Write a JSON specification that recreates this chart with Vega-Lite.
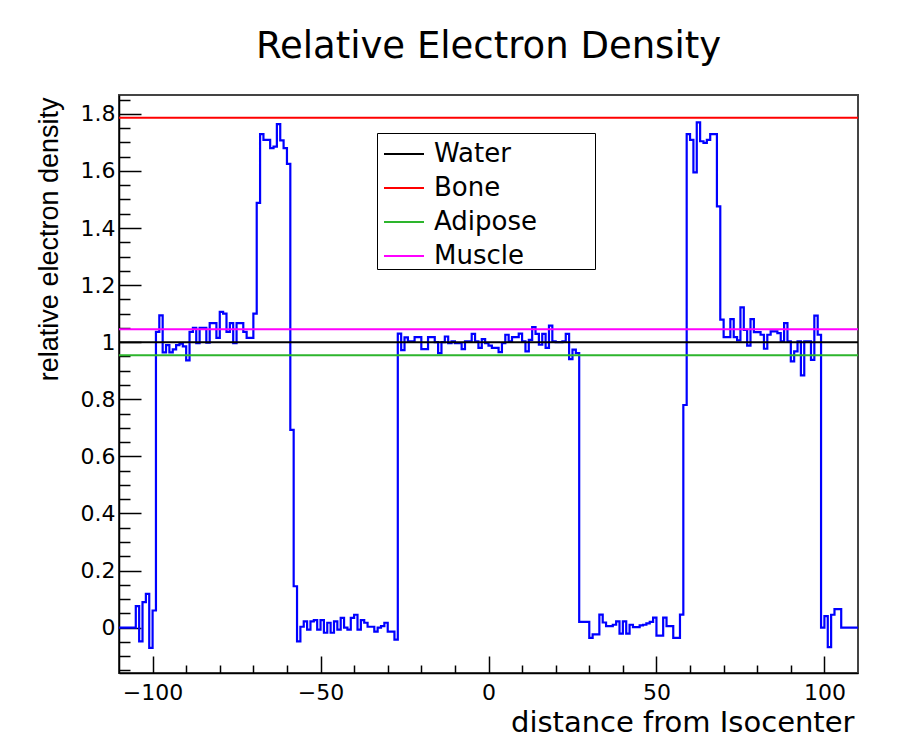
{
  "$schema": "https://vega.github.io/schema/vega-lite/v6.json",
  "width": 739,
  "height": 578,
  "autosize": {"type": "none"},
  "padding": {"left": 119, "top": 95, "right": 65, "bottom": 67},
  "background": "white",
  "title": {"text": "Relative Electron Density", "font": "DejaVu Sans", "fontSize": 37, "fontWeight": "normal", "color": "black", "anchor": "middle", "offset": 29},
  "config": {"view": {"stroke": "#444444", "strokeWidth": 2}},
  "resolve": {"axis": {"x": "independent", "y": "independent"}},
  "datasets": {
    "hist": [
      {"x": -110, "v": 0}, {"x": -109, "v": 0}, {"x": -108, "v": 0}, {"x": -107, "v": 0}, {"x": -106, "v": 0},
      {"x": -105, "v": 0.075}, {"x": -104, "v": -0.048}, {"x": -103, "v": 0.089}, {"x": -102, "v": 0.118}, {"x": -101, "v": -0.071},
      {"x": -100, "v": 0.06}, {"x": -99, "v": 1.036}, {"x": -98, "v": 1.094}, {"x": -97, "v": 0.964}, {"x": -96, "v": 0.99},
      {"x": -95, "v": 0.964}, {"x": -94, "v": 0.975}, {"x": -93, "v": 0.99}, {"x": -92, "v": 0.995}, {"x": -91, "v": 0.985},
      {"x": -90, "v": 0.936}, {"x": -89, "v": 1.036}, {"x": -88, "v": 1.05}, {"x": -87, "v": 0.997}, {"x": -86, "v": 1.05},
      {"x": -85, "v": 1.05}, {"x": -84, "v": 0.998}, {"x": -83, "v": 1.067}, {"x": -82, "v": 1.067}, {"x": -81, "v": 1.015},
      {"x": -80, "v": 1.106}, {"x": -79, "v": 1.1}, {"x": -78, "v": 1.036}, {"x": -77, "v": 1.067}, {"x": -76, "v": 0.997},
      {"x": -75, "v": 1.067}, {"x": -74, "v": 1.067}, {"x": -73, "v": 1.036}, {"x": -72, "v": 1.015}, {"x": -71, "v": 1.015},
      {"x": -70, "v": 1.1}, {"x": -69, "v": 1.488}, {"x": -68, "v": 1.729}, {"x": -67, "v": 1.709}, {"x": -66, "v": 1.709},
      {"x": -65, "v": 1.68}, {"x": -64, "v": 1.685}, {"x": -63, "v": 1.764}, {"x": -62, "v": 1.707}, {"x": -61, "v": 1.68},
      {"x": -60, "v": 1.625}, {"x": -59, "v": 0.693}, {"x": -58, "v": 0.145}, {"x": -57, "v": -0.048}, {"x": -56, "v": 0.003},
      {"x": -55, "v": 0.022}, {"x": -54, "v": -0.007}, {"x": -53, "v": 0.022}, {"x": -52, "v": 0.026}, {"x": -51, "v": -0.007},
      {"x": -50, "v": 0.026}, {"x": -49, "v": -0.018}, {"x": -48, "v": 0.017}, {"x": -47, "v": -0.018}, {"x": -46, "v": 0.022},
      {"x": -45, "v": -0.007}, {"x": -44, "v": 0.034}, {"x": -43, "v": 0.0}, {"x": -42, "v": -0.007}, {"x": -41, "v": 0.034},
      {"x": -40, "v": 0.045}, {"x": -39, "v": -0.007}, {"x": -38, "v": 0.026}, {"x": -37, "v": 0.017}, {"x": -36, "v": 0.003},
      {"x": -35, "v": 0.003}, {"x": -34, "v": -0.014}, {"x": -33, "v": 0.0}, {"x": -32, "v": 0.005}, {"x": -31, "v": 0.017},
      {"x": -30, "v": -0.014}, {"x": -29, "v": -0.014}, {"x": -28, "v": -0.042}, {"x": -27, "v": 1.03}, {"x": -26, "v": 0.972},
      {"x": -25, "v": 1.017}, {"x": -24, "v": 1.003}, {"x": -23, "v": 1.003}, {"x": -22, "v": 1.018}, {"x": -21, "v": 1.018},
      {"x": -20, "v": 0.976}, {"x": -19, "v": 0.976}, {"x": -18, "v": 1.018}, {"x": -17, "v": 1.018}, {"x": -16, "v": 1.0},
      {"x": -15, "v": 0.962}, {"x": -14, "v": 1.0}, {"x": -13, "v": 1.02}, {"x": -12, "v": 0.997}, {"x": -11, "v": 1.003},
      {"x": -10, "v": 0.997}, {"x": -9, "v": 0.997}, {"x": -8, "v": 0.976}, {"x": -7, "v": 1.003}, {"x": -6, "v": 1.003},
      {"x": -5, "v": 1.029}, {"x": -4, "v": 1.003}, {"x": -3, "v": 0.98}, {"x": -2, "v": 1.011}, {"x": -1, "v": 0.997},
      {"x": 0, "v": 0.988}, {"x": 1, "v": 0.98}, {"x": 2, "v": 0.98}, {"x": 3, "v": 0.965}, {"x": 4, "v": 0.997},
      {"x": 5, "v": 1.026}, {"x": 6, "v": 1.003}, {"x": 7, "v": 1.018}, {"x": 8, "v": 1.018}, {"x": 9, "v": 1.03},
      {"x": 10, "v": 1.003}, {"x": 11, "v": 0.968}, {"x": 12, "v": 1.008}, {"x": 13, "v": 1.053}, {"x": 14, "v": 1.029},
      {"x": 15, "v": 0.991}, {"x": 16, "v": 1.029}, {"x": 17, "v": 0.98}, {"x": 18, "v": 1.058}, {"x": 19, "v": 1.003},
      {"x": 20, "v": 1.0}, {"x": 21, "v": 1.0}, {"x": 22, "v": 1.003}, {"x": 23, "v": 1.029}, {"x": 24, "v": 0.941},
      {"x": 25, "v": 0.974}, {"x": 26, "v": 0.962}, {"x": 27, "v": 0.02}, {"x": 28, "v": 0.02}, {"x": 29, "v": 0.02},
      {"x": 30, "v": -0.036}, {"x": 31, "v": -0.024}, {"x": 32, "v": -0.024}, {"x": 33, "v": 0.0455}, {"x": 34, "v": 0.018},
      {"x": 35, "v": 0.005}, {"x": 36, "v": 0.005}, {"x": 37, "v": 0.01}, {"x": 38, "v": 0.022}, {"x": 39, "v": -0.021},
      {"x": 40, "v": 0.022}, {"x": 41, "v": -0.021}, {"x": 42, "v": 0.01}, {"x": 43, "v": 0.002}, {"x": 44, "v": 0.002},
      {"x": 45, "v": 0.008}, {"x": 46, "v": 0.01}, {"x": 47, "v": 0.015}, {"x": 48, "v": 0.02}, {"x": 49, "v": 0.035},
      {"x": 50, "v": -0.028}, {"x": 51, "v": -0.028}, {"x": 52, "v": 0.035}, {"x": 53, "v": 0.005}, {"x": 54, "v": 0.005},
      {"x": 55, "v": -0.036}, {"x": 56, "v": -0.036}, {"x": 57, "v": 0.0455}, {"x": 58, "v": 0.78}, {"x": 59, "v": 1.729},
      {"x": 60, "v": 1.709}, {"x": 61, "v": 1.595}, {"x": 62, "v": 1.77}, {"x": 63, "v": 1.704}, {"x": 64, "v": 1.698},
      {"x": 65, "v": 1.709}, {"x": 66, "v": 1.729}, {"x": 67, "v": 1.729}, {"x": 68, "v": 1.476}, {"x": 69, "v": 1.079},
      {"x": 70, "v": 1.018}, {"x": 71, "v": 1.018}, {"x": 72, "v": 1.081}, {"x": 73, "v": 1.018}, {"x": 74, "v": 1.006},
      {"x": 75, "v": 1.122}, {"x": 76, "v": 1.043}, {"x": 77, "v": 0.988}, {"x": 78, "v": 1.081}, {"x": 79, "v": 1.035},
      {"x": 80, "v": 1.035}, {"x": 81, "v": 1.026}, {"x": 82, "v": 0.977}, {"x": 83, "v": 1.026}, {"x": 84, "v": 1.038},
      {"x": 85, "v": 1.038}, {"x": 86, "v": 1.032}, {"x": 87, "v": 1.003}, {"x": 88, "v": 1.067}, {"x": 89, "v": 1.003},
      {"x": 90, "v": 0.933}, {"x": 91, "v": 0.968}, {"x": 92, "v": 1.003}, {"x": 93, "v": 0.884}, {"x": 94, "v": 1.003},
      {"x": 95, "v": 1.003}, {"x": 96, "v": 0.938}, {"x": 97, "v": 1.093}, {"x": 98, "v": 1.026}, {"x": 99, "v": 0.0},
      {"x": 100, "v": 0.04}, {"x": 101, "v": -0.068}, {"x": 102, "v": 0.045}, {"x": 103, "v": 0.065}, {"x": 104, "v": 0.065},
      {"x": 105, "v": 0}, {"x": 106, "v": 0}, {"x": 107, "v": 0}, {"x": 108, "v": 0}, {"x": 109, "v": 0},
      {"x": 110, "v": 0}
    ],
    "refs": [
      {"material": "Water", "value": 1.0},
      {"material": "Bone", "value": 1.786},
      {"material": "Adipose", "value": 0.954},
      {"material": "Muscle", "value": 1.045}
    ]
  },
  "layer": [
    {
      "data": {"name": "hist"},
      "mark": {"type": "line", "interpolate": "step-after", "color": "#0000ff", "strokeWidth": 2.2},
      "encoding": {
        "x": {
          "field": "x", "type": "quantitative",
          "scale": {"domain": [-110, 110], "nice": false, "zero": false},
          "axis": {
            "orient": "bottom",
            "title": "distance from Isocenter",
            "titleFont": "DejaVu Sans", "titleFontSize": 29, "titleFontWeight": "normal", "titleColor": "black",
            "titleAlign": "right", "titleBaseline": "alphabetic", "titleX": 735, "titleY": 58, "titleAnchor": "end",
            "values": [-100, -50, 0, 50, 100], "format": "d",
            "tickSize": -17, "tickColor": "black", "tickWidth": 1.5,
            "labelFont": "DejaVu Sans", "labelFontSize": 22, "labelColor": "black", "labelPadding": 26,
            "labelFlush": false, "labelOverlap": false, "labelBound": false,
            "domainColor": "black", "domainWidth": 1.5, "grid": false
          }
        },
        "y": {
          "field": "v", "type": "quantitative",
          "scale": {"domain": [-0.159, 1.866], "nice": false, "zero": false},
          "axis": {
            "orient": "left",
            "title": "relative electron density",
            "titleFont": "Liberation Sans", "titleFontSize": 27, "titleFontWeight": "normal", "titleColor": "black",
            "titleAngle": 270, "titleAlign": "right", "titleBaseline": "alphabetic", "titleX": -62, "titleY": 2, "titleAnchor": "end",
            "values": [0, 0.2, 0.4, 0.6, 0.8, 1, 1.2, 1.4, 1.6, 1.8], "format": "~g",
            "tickSize": -22, "tickColor": "black", "tickWidth": 1.5,
            "labelFont": "DejaVu Sans", "labelFontSize": 22, "labelColor": "black", "labelPadding": 26,
            "labelFlush": false, "labelOverlap": false, "labelBound": false,
            "domainColor": "black", "domainWidth": 1.5, "grid": false
          }
        }
      }
    },
    {
      "data": {"name": "refs"},
      "mark": {"type": "rule", "strokeWidth": 2},
      "encoding": {
        "x": {
          "datum": -110, "type": "quantitative",
          "axis": {
            "orient": "bottom", "title": null, "labels": false, "domain": false, "grid": false,
            "values": [-90, -80, -70, -60, -40, -30, -20, -10, 10, 20, 30, 40, 60, 70, 80, 90],
            "tickSize": -8, "tickColor": "black", "tickWidth": 1.5
          }
        },
        "x2": {"datum": 110},
        "y": {
          "field": "value", "type": "quantitative",
          "axis": {
            "orient": "left", "title": null, "labels": false, "domain": false, "grid": false,
            "values": [-0.15, -0.1, -0.05, 0.05, 0.1, 0.15, 0.25, 0.3, 0.35, 0.45, 0.5, 0.55, 0.65, 0.7, 0.75, 0.85, 0.9, 0.95, 1.05, 1.1, 1.15, 1.25, 1.3, 1.35, 1.45, 1.5, 1.55, 1.65, 1.7, 1.75, 1.85],
            "tickSize": -11, "tickColor": "black", "tickWidth": 1.5
          }
        },
        "color": {
          "field": "material", "type": "nominal",
          "scale": {"domain": ["Water", "Bone", "Adipose", "Muscle"], "range": ["#000000", "#ff0000", "#2db52d", "#ff00ff"]},
          "legend": {
            "orient": "none", "legendX": 258, "legendY": 38, "title": null,
            "symbolType": "stroke", "symbolSize": 1600, "symbolStrokeWidth": 2, "symbolOffset": 6,
            "labelFont": "DejaVu Sans", "labelFontSize": 26, "labelColor": "black", "labelOffset": 9, "labelLimit": 0,
            "labelExpr": "datum.label + '       \u200b'",
            "padding": 0, "rowPadding": 0, "strokeColor": "black", "fillColor": "white", "cornerRadius": 0
          }
        }
      }
    }
  ]
}
